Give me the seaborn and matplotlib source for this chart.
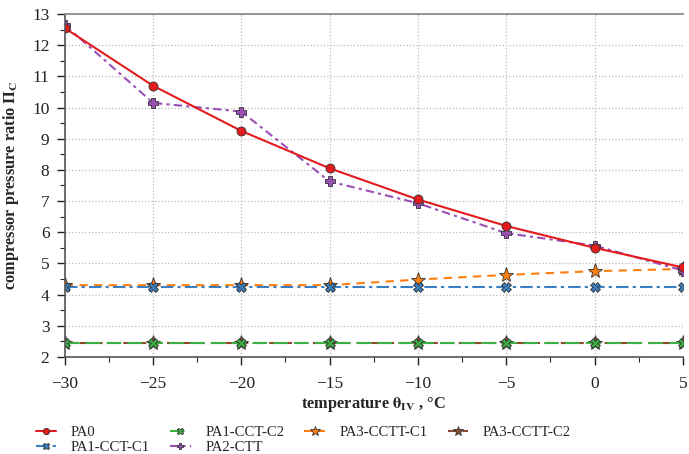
import numpy as np
import pandas as pd
import seaborn as sns
import matplotlib.pyplot as plt
from matplotlib.ticker import MultipleLocator

temps = [-30, -25, -20, -15, -10, -5, 0, 5]
pa0 = [12.55, 10.70, 9.25, 8.05, 7.05, 6.20, 5.50, 4.87]
pa1_c1 = [4.25, 4.25, 4.25, 4.25, 4.25, 4.25, 4.25, 4.25]
pa1_c2 = [2.45, 2.45, 2.45, 2.45, 2.45, 2.45, 2.45, 2.45]
pa2_ctt = [12.65, 10.15, 9.87, 7.63, 6.93, 5.97, 5.57, 4.77]
pa3_c1 = [4.30, 4.30, 4.30, 4.30, 4.48, 4.63, 4.75, 4.82]
pa3_c2 = [2.46, 2.46, 2.46, 2.46, 2.46, 2.46, 2.46, 2.46]

sns.set_theme(style="white")
plt.rcParams['font.family'] = ['Liberation Serif', 'DejaVu Serif']
plt.rcParams['mathtext.fontset'] = 'stix'

fig = plt.figure(figsize=(6.89, 4.54), dpi=100)
ax = fig.add_axes([0.094, 0.214, 0.897, 0.755])

# name, values, colour, linestyle, marker, size
series = [
    ("PA0", pa0, "#e41a1c", "-", "o", 6.5),
    ("PA1-CCT-C1", pa1_c1, "#3a7fc1", (0, (6, 2, 1.5, 2)), "X", 7),
    ("PA1-CCT-C2", pa1_c2, "#3cb043", (0, (7, 3)), "X", 7),
    ("PA2-CTT", pa2_ctt, "#9b4fb5", (0, (4, 2, 1.5, 2)), "P", 7),
    ("PA3-CCTT-C1", pa3_c1, "#ff7f0e", (0, (4, 3)), "*", 11),
    ("PA3-CCTT-C2", pa3_c2, "#8c4a2f", (0, (4, 3)), "*", 11),
]
# draw stars first so crosses and circles sit on top
order = [5, 4, 2, 1, 3, 0]
for i in order:
    name, vals, col, ls, mk, ms = series[i]
    df = pd.DataFrame({"t": temps, "v": vals})
    sns.lineplot(data=df, x="t", y="v", ax=ax, color=col, linestyle=ls,
                 marker=mk, markersize=ms, markeredgecolor="#333333",
                 markeredgewidth=0.6, linewidth=1.5, label=name)

ax.set_xlim(-30, 5)
ax.set_ylim(2, 13)
ax.xaxis.set_major_locator(MultipleLocator(5))
ax.xaxis.set_minor_locator(MultipleLocator(2.5))
ax.yaxis.set_major_locator(MultipleLocator(1))
ax.yaxis.set_minor_locator(MultipleLocator(0.5))
ax.grid(True, which="major", color="#bbbbbb", linestyle=":", linewidth=0.9)
ax.tick_params(which="major", direction="out", length=6, width=1, colors="#222222",
               labelsize=12.5, left=True, bottom=True)
ax.tick_params(axis="x", which="major", pad=8)
ax.tick_params(axis="y", which="major", pad=5)
ax.tick_params(which="minor", direction="out", length=3.5, width=0.8, colors="#222222",
               left=True, bottom=True)
for s in ["left", "bottom"]:
    ax.spines[s].set_color("#555555")
    ax.spines[s].set_linewidth(1.2)
ax.spines["top"].set_color("#888888")
ax.spines["right"].set_visible(False)

ax.set_xlabel(r"temperature $\mathbf{\theta_{IV}}$ , °C", fontsize=11.8, fontweight="bold", labelpad=2)
ax.set_ylabel(r"compressor pressure ratio $\mathbf{\Pi_C}$", fontsize=11.8, fontweight="bold", labelpad=8)

handles, labels = ax.get_legend_handles_labels()
lookup = dict(zip(labels, handles))
names = [s[0] for s in series]
ax.legend([lookup[n] for n in names], names, ncol=4, loc="upper left",
          bbox_to_anchor=(-0.047, -0.202), frameon=False, fontsize=10.6,
          handlelength=1.4, columnspacing=1.35, labelspacing=0.1, handletextpad=1.0,
          markerscale=0.7, borderpad=0.0, borderaxespad=0.0)

fig.savefig("out.png", dpi=100)
